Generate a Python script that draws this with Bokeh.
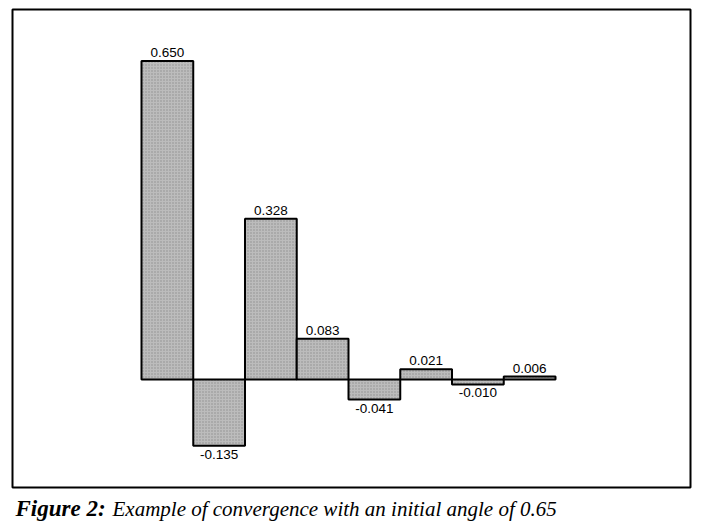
from bokeh.plotting import figure
from bokeh.models import ColumnDataSource, Range1d, Label, BoxAnnotation
from bokeh.core.properties import value
from bokeh.embed import file_html
from bokeh.resources import INLINE

steps = [1, 2, 3, 4, 5, 6, 7, 8]
values = [0.650, -0.135, 0.328, 0.083, -0.041, 0.021, -0.010, 0.006]
labels = ["0.650", "-0.135", "0.328", "0.083", "-0.041", "0.021", "-0.010", "0.006"]
caption_bold = "Figure 2:"
caption_rest = "Example of convergence with an initial angle of 0.65"

label_y = [v + 0.008 if v >= 0 else v - 0.008 for v in values]
label_base = ["bottom" if v >= 0 else "top" for v in values]

src = ColumnDataSource(dict(x=steps, top=values, ly=label_y, lab=labels, base=label_base))

p = figure(width=704, height=528, output_backend="svg", toolbar_location=None,
           x_range=Range1d(-2.2246, 11.379), y_range=Range1d(-0.3041, 0.7735),
           x_axis_location=None, y_axis_location=None, min_border=0)
p.grid.visible = False
p.outline_line_color = None
p.background_fill_color = "white"
p.border_fill_color = "white"

# figure frame (panel border)
p.add_layout(BoxAnnotation(left=12, right=690, bottom=41, top=519,
                           left_units="screen", right_units="screen",
                           bottom_units="screen", top_units="screen",
                           fill_alpha=0, line_color="black", line_alpha=1.0, line_width=2))

p.vbar(x="x", top="top", bottom=0, width=1.0, source=src,
       fill_color="#bcbcbc", line_color="black", line_width=2,
       hatch_pattern="dot", hatch_color="#7a7a7a", hatch_scale=3, hatch_weight=1, hatch_alpha=0.7)

p.text(x="x", y="ly", text="lab", source=src, text_align="center", text_baseline="base",
       text_font=value("Liberation Sans"), text_font_size="13.5px", text_color="black")

p.add_layout(Label(x=15, y=20, x_units="screen", y_units="screen", text=caption_bold,
                   text_font="Liberation Serif", text_font_style="bold italic",
                   text_baseline="alphabetic",
                   text_font_size="23px", text_color="black"))
p.add_layout(Label(x=112, y=20, x_units="screen", y_units="screen", text=caption_rest,
                   text_font="Liberation Serif", text_font_style="italic",
                   text_baseline="alphabetic",
                   text_font_size="21px", text_color="black"))

open("out.html", "w").write(file_html(p, INLINE))
